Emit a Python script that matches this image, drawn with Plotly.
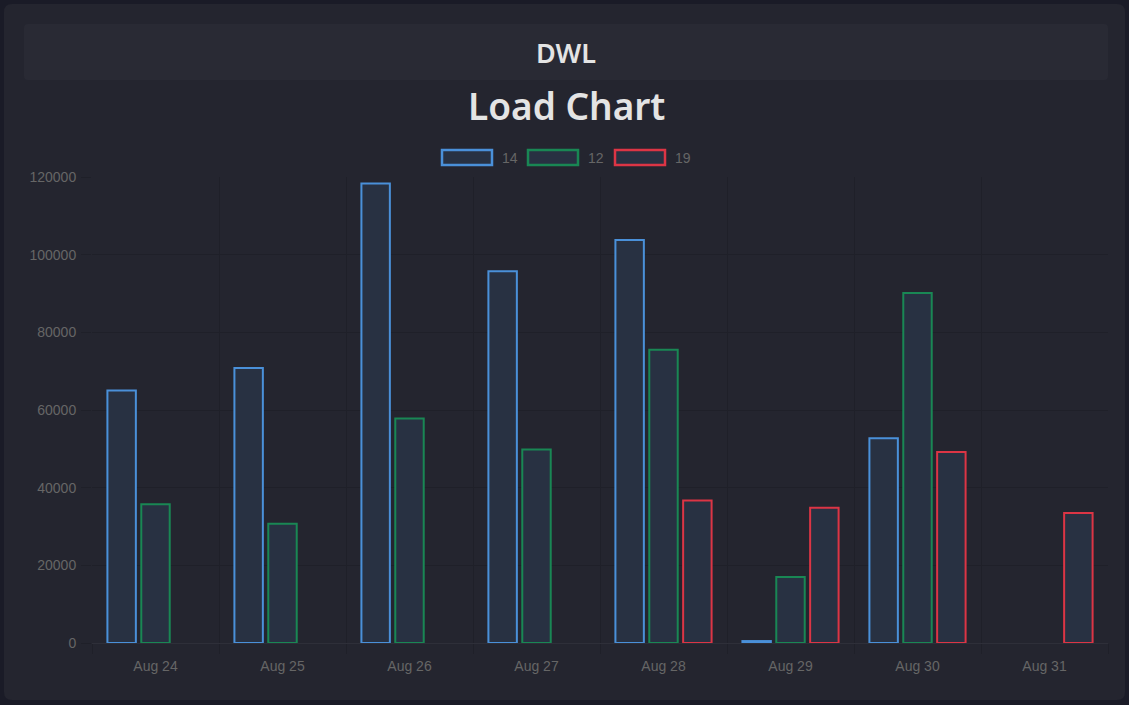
import plotly.graph_objects as go

# ---- data ----
categories = ["Aug 24", "Aug 25", "Aug 26", "Aug 27", "Aug 28", "Aug 29", "Aug 30", "Aug 31"]
series_names = ["14", "12", "19"]
values_14 = [65000, 70800, 118300, 95700, 103800, 500, 52700, None]
values_12 = [35700, 30700, 57800, 49800, 75500, 17000, 90100, None]
values_19 = [None, None, None, None, 36700, 34800, 49200, 33500]
y_ticks = [0, 20000, 40000, 60000, 80000, 100000, 120000]

edge_colors = ["#4a90d9", "#198754", "#dc3545"]
bar_fill = "rgb(40,49,66)"

W, H = 1129, 705
L, R, T, B = 92, 1108, 177, 643  # plot area in pixels


def px(xp):
    return (xp - L) / (R - L)


def py(yp):
    return (B - yp) / (B - T)


def rounded(x0, y0, x1, y1, r):
    a, b, c, d = px(x0), py(y0), px(x1), py(y1)
    rx = r / (R - L)
    ry = r / (B - T)
    return (f"M {a+rx},{b} L {c-rx},{b} Q {c},{b} {c},{b-ry} L {c},{d+ry} "
            f"Q {c},{d} {c-rx},{d} L {a+rx},{d} Q {a},{d} {a},{d+ry} "
            f"L {a},{b-ry} Q {a},{b} {a+rx},{b} Z")


xs = list(range(len(categories)))
fig = go.Figure()
for name, vals, col in zip(series_names, [values_14, values_12, values_19], edge_colors):
    fig.add_trace(go.Bar(
        x=xs, y=vals, name=name,
        marker=dict(color=bar_fill, line=dict(color=col, width=2)),
        showlegend=False,
    ))

shapes = [
    dict(type="path", xref="paper", yref="paper", path=rounded(4, 4, 1125, 700, 8),
         fillcolor="#24252f", line=dict(width=0), layer="below"),
    dict(type="path", xref="paper", yref="paper", path=rounded(24, 24, 1108, 80, 4),
         fillcolor="#292a34", line=dict(width=0), layer="below"),
]
annotations = [
    dict(text="DWL", x=px(566), y=py(52.5), xref="paper", yref="paper",
         showarrow=False, xanchor="center", yanchor="middle",
         font=dict(family="Noto Sans", size=27, color="#e4e4e4", weight=600)),
    dict(text="Load Chart", x=px(566), y=py(106), xref="paper", yref="paper",
         showarrow=False, xanchor="center", yanchor="middle",
         font=dict(family="Noto Sans", size=37, color="#e4e4e4", weight=600)),
]
legend_x = [441, 527, 614]
for name, col, lx in zip(series_names, edge_colors, legend_x):
    shapes.append(dict(type="rect", xref="paper", yref="paper",
                       x0=px(lx + 1), x1=px(lx + 51), y0=py(150), y1=py(165),
                       fillcolor=bar_fill, line=dict(color=col, width=2.5), layer="above"))
    annotations.append(dict(text=name, x=px(lx + 59), y=py(157.5), xref="paper", yref="paper",
                            showarrow=False, xanchor="left", yanchor="middle",
                            font=dict(family="Liberation Sans", size=14, color="#666666")))

grid = "#1f2029"
fig.update_layout(
    width=W, height=H,
    margin=dict(l=L, r=W - R, t=T, b=H - B, pad=0),
    paper_bgcolor="#1a1b27",
    plot_bgcolor="rgba(0,0,0,0)",
    barmode="group", bargap=0.2, bargroupgap=0.16,
    shapes=shapes, annotations=annotations,
    font=dict(family="Liberation Sans", size=14, color="#666666"),
    xaxis=dict(
        range=[-0.5, len(categories) - 0.5],
        tickmode="array", tickvals=xs, ticktext=categories,
        showgrid=False, zeroline=False, showline=False,
        ticks="outside", ticklen=10, tickcolor="rgba(0,0,0,0)",
        ticklabelstandoff=0,
        minor=dict(tick0=-0.5, dtick=1, showgrid=True, gridcolor=grid, gridwidth=1,
                   ticks="outside", ticklen=10, tickcolor=grid),
        tickfont=dict(size=14, color="#666666"),
    ),
    yaxis=dict(
        range=[0, 120000], tickmode="array", tickvals=y_ticks,
        ticktext=[str(v) for v in y_ticks],
        showgrid=True, gridcolor=grid, gridwidth=1,
        zeroline=True, zerolinecolor="#2e2f39", zerolinewidth=1,
        showline=False,
        ticks="outside", ticklen=10, tickcolor=grid,
        ticklabelstandoff=2,
        tickfont=dict(size=14, color="#666666"),
    ),
)

fig.write_html(
    "out.html",
    config={"displayModeBar": False},
    post_script="document.body.style.margin='0';document.body.style.background='#1a1b27';",
)
